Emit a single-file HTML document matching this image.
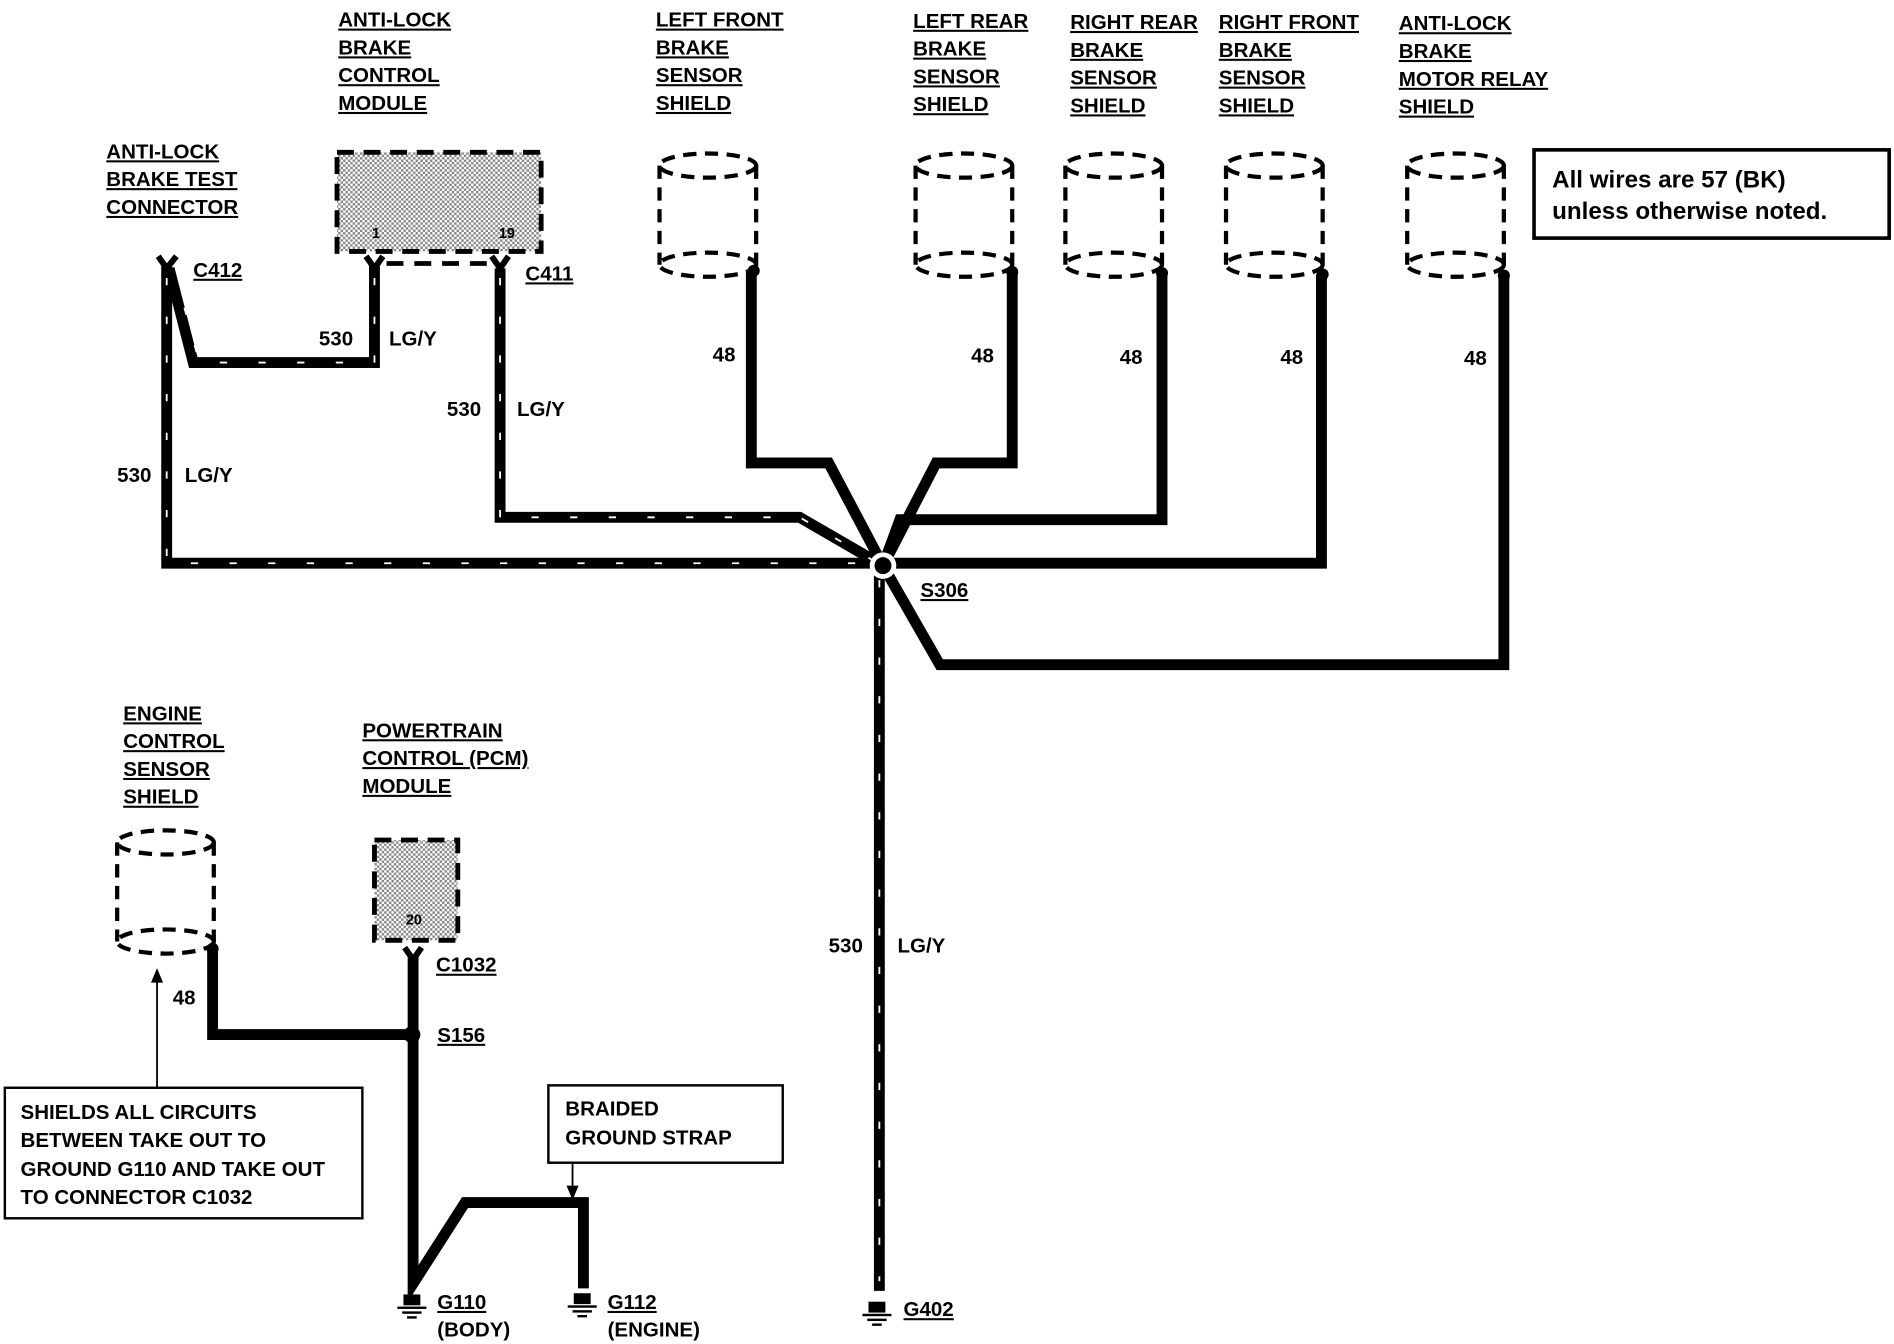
<!DOCTYPE html>
<html><head><meta charset="utf-8"><style>
html,body{margin:0;padding:0;background:#fff;}
svg{display:block}
text{font-family:"Liberation Sans",Arial,sans-serif;font-weight:bold;font-size:17px;fill:#000}
.u{text-decoration:underline}
</style></head><body>
<svg width="1894" height="1344" viewBox="0 0 1568 1112" preserveAspectRatio="none" xmlns="http://www.w3.org/2000/svg">
<defs>
<pattern id="st" width="4" height="4" patternUnits="userSpaceOnUse"><rect width="4" height="4" fill="#fff"/><rect width="2" height="2" fill="#888"/><rect x="2" y="2" width="2" height="2" fill="#888"/></pattern>
</defs>
<g stroke="#000" fill="none" stroke-width="9" stroke-linejoin="miter">
<!-- LG/Y wires -->
<path d="M138,220 V466 H731"/>
<path d="M140,222 L160,300 H310 V220"/>
<path d="M414,222 V428 H662 L731,468"/>
<path d="M728,468 V1068"/>
<!-- 48 wires -->
<path d="M622,225 V383 H686 L731,468"/>
<path d="M838,226 V383 H775 L731,468"/>
<path d="M962,226 V430 H745 L731,468"/>
<path d="M1094,227 V466 H731"/>
<path d="M1245,228 V550 H778 L731,468"/>
<path d="M176,785 V856 H341"/>
<path d="M342,792 V1062 L385,995 H483 V1066"/>
</g>
<!-- white dashes on LG/Y -->
<g stroke="#fff" fill="none" stroke-width="1.5" stroke-dasharray="6 26">
<path d="M138,230 V466 H725"/>
<path d="M310,230 V300 H165 L146,230"/>
<path d="M414,230 V428 H662 L725,465"/>
<path d="M728,480 V1060"/>
</g>
<!-- connector Ys -->
<g stroke="#000" stroke-width="5" fill="none">
<path d="M131,212 L138,222 L146,212"/>
<path d="M303,212 L310,222 L317,212"/>
<path d="M407,212 L414,222 L421,212"/>
<path d="M335,784 L342,794 L349,784"/>
</g>
<path d="M320,218 H408" stroke="#000" stroke-width="4" stroke-dasharray="14 9"/>
<!-- S306 -->
<circle cx="731" cy="468" r="11" fill="#fff"/>
<circle cx="731" cy="468" r="7" fill="#000"/>
<circle cx="341" cy="856" r="7" fill="#000"/>
<!-- module boxes -->
<rect x="279" y="126" width="169" height="82" fill="url(#st)" stroke="#000" stroke-width="4" stroke-dasharray="14 8"/>
<text x="308" y="197" style="font-size:12px">1</text><text x="413" y="197" style="font-size:12px">19</text>
<rect x="310" y="695" width="69" height="83" fill="url(#st)" stroke="#000" stroke-width="4" stroke-dasharray="14 8"/>
<text x="336" y="765" style="font-size:12px">20</text>
<!-- cylinders -->
<g stroke="#000" stroke-width="3.5" fill="none" stroke-dasharray="11 7">
<g id="cy"><ellipse cx="586" cy="137" rx="40" ry="10"/><ellipse cx="586" cy="219" rx="40" ry="10"/><path d="M546,137 V219 M626,137 V219"/></g>
<use href="#cy" x="212"/><use href="#cy" x="336"/><use href="#cy" x="469"/><use href="#cy" x="619"/>
<use href="#cy" x="-449" y="560"/>
</g>
<g fill="#000"><circle cx="624" cy="224" r="5"/><circle cx="838" cy="225" r="5"/><circle cx="962" cy="226" r="5"/><circle cx="1095" cy="227" r="5"/><circle cx="1245" cy="228" r="5"/><circle cx="176" cy="785" r="5"/></g>
<!-- grounds -->
<g fill="#000">
<g id="gd"><rect x="334" y="1071" width="14" height="9"/><rect x="329" y="1081" width="24" height="2"/><rect x="333" y="1085" width="16" height="2"/><rect x="337" y="1089" width="8" height="2"/></g>
<use href="#gd" x="141" y="-1"/><use href="#gd" x="385" y="6"/>
</g>
<!-- labels -->
<text class="u" x="280" y="22">ANTI-LOCK</text><text class="u" x="280" y="45">BRAKE</text><text class="u" x="280" y="68">CONTROL</text><text class="u" x="280" y="91">MODULE</text>
<text class="u" x="88" y="131">ANTI-LOCK</text><text class="u" x="88" y="154">BRAKE TEST</text><text class="u" x="88" y="177">CONNECTOR</text>
<text class="u" x="543" y="22">LEFT FRONT</text><text class="u" x="543" y="45">BRAKE</text><text class="u" x="543" y="68">SENSOR</text><text class="u" x="543" y="91">SHIELD</text>
<text class="u" x="756" y="23">LEFT REAR</text><text class="u" x="756" y="46">BRAKE</text><text class="u" x="756" y="69">SENSOR</text><text class="u" x="756" y="92">SHIELD</text>
<text class="u" x="886" y="24">RIGHT REAR</text><text class="u" x="886" y="47">BRAKE</text><text class="u" x="886" y="70">SENSOR</text><text class="u" x="886" y="93">SHIELD</text>
<text class="u" x="1009" y="24">RIGHT FRONT</text><text class="u" x="1009" y="47">BRAKE</text><text class="u" x="1009" y="70">SENSOR</text><text class="u" x="1009" y="93">SHIELD</text>
<text class="u" x="1158" y="25">ANTI-LOCK</text><text class="u" x="1158" y="48">BRAKE</text><text class="u" x="1158" y="71">MOTOR RELAY</text><text class="u" x="1158" y="94">SHIELD</text>
<text class="u" x="160" y="229">C412</text><text class="u" x="435" y="232">C411</text>
<text x="264" y="286">530</text><text x="322" y="286">LG/Y</text>
<text x="370" y="344">530</text><text x="428" y="344">LG/Y</text>
<text x="97" y="399">530</text><text x="153" y="399">LG/Y</text>
<text x="590" y="299">48</text><text x="804" y="300">48</text><text x="927" y="301">48</text><text x="1060" y="301">48</text><text x="1212" y="302">48</text>
<text class="u" x="762" y="494">S306</text>
<text x="686" y="788">530</text><text x="743" y="788">LG/Y</text>
<text class="u" x="102" y="596">ENGINE</text><text class="u" x="102" y="619">CONTROL</text><text class="u" x="102" y="642">SENSOR</text><text class="u" x="102" y="665">SHIELD</text>
<text class="u" x="300" y="610">POWERTRAIN</text><text class="u" x="300" y="633">CONTROL (PCM)</text><text class="u" x="300" y="656">MODULE</text>
<text class="u" x="361" y="804">C1032</text><text class="u" x="362" y="862">S156</text><text x="143" y="831">48</text>
<text class="u" x="362" y="1083">G110</text><text x="362" y="1106">(BODY)</text>
<text class="u" x="503" y="1083">G112</text><text x="503" y="1106">(ENGINE)</text>
<text class="u" x="748" y="1089">G402</text>
<!-- boxes -->
<rect x="1270" y="124" width="294" height="73" fill="none" stroke="#000" stroke-width="3"/>
<text x="1285" y="155" style="font-size:20px">All wires are 57 (BK)</text>
<text x="1285" y="181" style="font-size:20px">unless otherwise noted.</text>
<rect x="4" y="900" width="296" height="108" fill="none" stroke="#000" stroke-width="2"/>
<text x="17" y="926">SHIELDS ALL CIRCUITS</text><text x="17" y="949">BETWEEN TAKE OUT TO</text><text x="17" y="973">GROUND G110 AND TAKE OUT</text><text x="17" y="996">TO CONNECTOR C1032</text>
<path d="M130,900 V808" stroke="#000" stroke-width="1.5"/><path d="M125,813 L130,801 L135,813 Z" fill="#000"/>
<rect x="454" y="898" width="194" height="64" fill="none" stroke="#000" stroke-width="2"/>
<text x="468" y="923">BRAIDED</text><text x="468" y="947">GROUND STRAP</text>
<path d="M474,962 V984" stroke="#000" stroke-width="1.5"/><path d="M469,981 L474,993 L479,981 Z" fill="#000"/>
</svg>
</body></html>
